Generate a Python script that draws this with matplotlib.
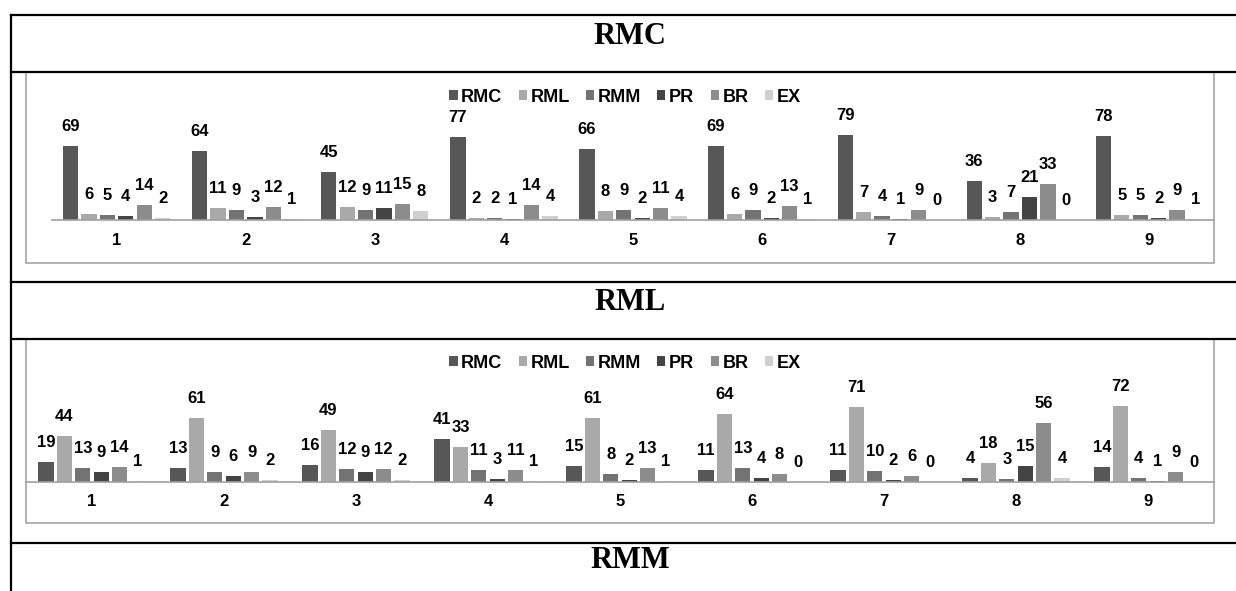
import matplotlib
matplotlib.use("Agg")
import matplotlib.pyplot as plt
import numpy as np
from matplotlib.lines import Line2D
from matplotlib.patches import Rectangle, Patch

# data
categories = ["1", "2", "3", "4", "5", "6", "7", "8", "9"]
series = ["RMC", "RML", "RMM", "PR", "BR", "EX"]
colors = ["#575757", "#a9a9a9", "#737373", "#444444", "#8c8c8c", "#cfcfcf"]

rmc_panel = [
    [69, 6, 5, 4, 14, 2],
    [64, 11, 9, 3, 12, 1],
    [45, 12, 9, 11, 15, 8],
    [77, 2, 2, 1, 14, 4],
    [66, 8, 9, 2, 11, 4],
    [69, 6, 9, 2, 13, 1],
    [79, 7, 4, 1, 9, 0],
    [36, 3, 7, 21, 33, 0],
    [78, 5, 5, 2, 9, 1],
]
rml_panel = [
    [19, 44, 13, 9, 14, 1],
    [13, 61, 9, 6, 9, 2],
    [16, 49, 12, 9, 12, 2],
    [41, 33, 11, 3, 11, 1],
    [15, 61, 8, 2, 13, 1],
    [11, 64, 13, 4, 8, 0],
    [11, 71, 10, 2, 6, 0],
    [4, 18, 3, 15, 56, 4],
    [14, 72, 4, 1, 9, 0],
]
headers = ["RMC", "RML", "RMM"]

W, H = 1236, 591
fig = plt.figure(figsize=(W / 100, H / 100), dpi=100)
fig.patch.set_facecolor("white")


def rect(x0, ytop, x1, ybot):
    """pixel box (from top-left) -> figure fraction rect"""
    return [x0 / W, 1 - ybot / H, (x1 - x0) / W, (ybot - ytop) / H]


def hline(y, x0=11, x1=W):
    fig.add_artist(Line2D([x0 / W, x1 / W], [1 - y / H, 1 - y / H],
                          transform=fig.transFigure, color="black", lw=1.6))


def draw_panel(values, x0, x1, ytop, ybase, ymax, box, legend_y):
    ax = fig.add_axes(rect(x0, ytop, x1, ybase))
    vals = np.array(values)
    ncat = len(categories)
    cat_w = (x1 - x0) / ncat
    pitch = 18.4 / cat_w
    width = 15.3 / cat_w
    x = np.arange(ncat) + 0.5
    for i, name in enumerate(series):
        pos = x + (i - 2.5) * pitch
        ax.bar(pos, vals[:, i], width=width, color=colors[i], label=name,
               zorder=2)
        for px, v in zip(pos, vals[:, i]):
            ax.annotate(str(v), (px, v), xytext=(0, 15),
                        textcoords="offset pixels", ha="center",
                        va="baseline", fontsize=12, fontweight="bold",
                        family="Liberation Sans", annotation_clip=False)
    ax.set_xlim(0, ncat)
    ax.set_ylim(0, ymax)
    ax.set_xticks(x)
    ax.set_xticklabels(categories, fontsize=12, fontweight="bold",
                       family="Liberation Sans")
    ax.tick_params(axis="x", length=0, pad=9)
    ax.set_yticks([])
    for s in ["top", "right", "left"]:
        ax.spines[s].set_visible(False)
    ax.spines["bottom"].set_color("#a0a0a0")
    ax.spines["bottom"].set_linewidth(1.2)
    ax.patch.set_alpha(0)

    # grey frame round the chart
    bx0, by0, bx1, by1 = box
    fig.add_artist(Rectangle((bx0 / W, 1 - by1 / H), (bx1 - bx0) / W,
                             (by1 - by0) / H, transform=fig.transFigure,
                             fill=False, edgecolor="#a6a6a6", lw=1.2))

    handles = [Patch(facecolor=c, edgecolor="none") for c in colors]
    fig.legend(handles, series, loc="center", ncol=6,
               bbox_to_anchor=(625 / W, 1 - legend_y / H),
               frameon=False, handlelength=0.45, handleheight=0.45,
               handletextpad=0.2, columnspacing=0.9,
               prop={"family": "Liberation Sans", "weight": "bold",
                     "size": 13})
    return ax


draw_panel(rmc_panel, 52, 1214, 100, 220, 120 / 1.076,
           (26, 72, 1214, 263), 97)
draw_panel(rml_panel, 26, 1214, 370, 482, 112 / 1.056,
           (26, 339, 1214, 523), 363)

# table rules
for y in [15, 72, 282, 339, 543]:
    hline(y)
fig.add_artist(Line2D([11 / W, 11 / W], [1 - 15 / H, 0],
                      transform=fig.transFigure, color="black", lw=1.6))

# row headers
for name, y in zip(headers, [36, 302, 561]):
    fig.text(630 / W, 1 - y / H, name, ha="center", va="center",
             fontsize=22, fontweight="bold", family="Liberation Serif")

fig.savefig("out.png", dpi=100)
